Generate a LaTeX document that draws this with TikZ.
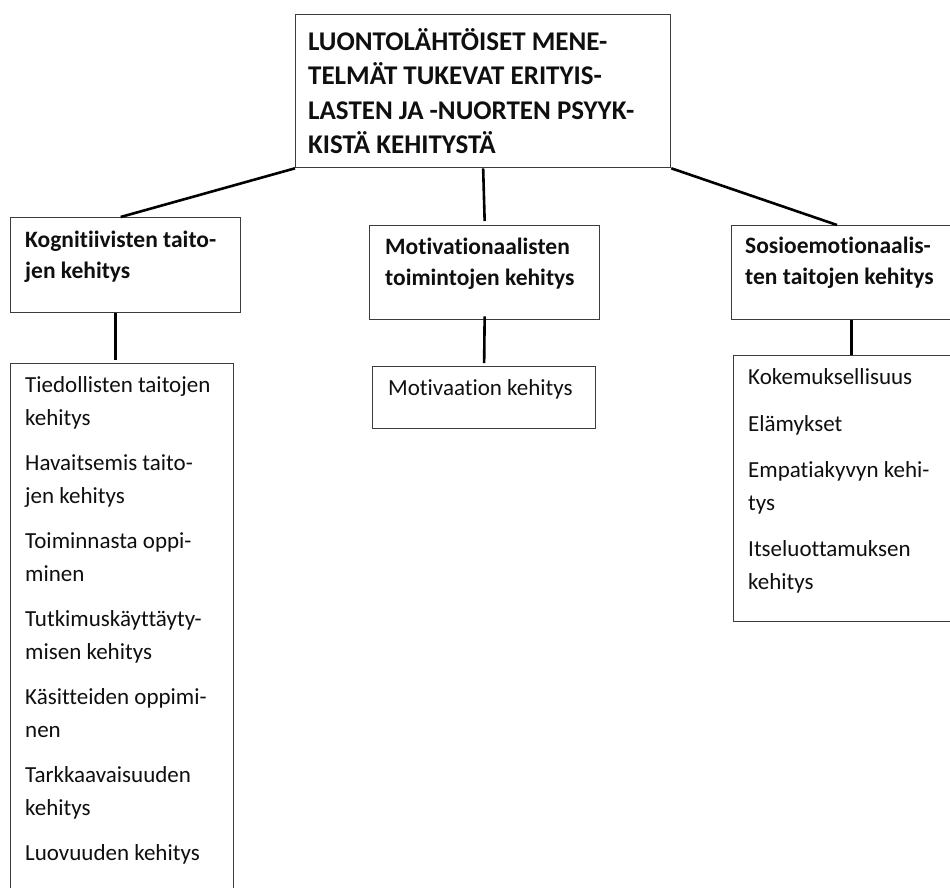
\documentclass[tikz,border=0pt]{standalone}
\usepackage{fontspec}
\setmainfont{Carlito}[Ligatures=NoCommon]
\definecolor{boxcol}{RGB}{60,60,60}
\definecolor{txtcol}{RGB}{15,15,15}
\tikzset{
  body/.style={font=\fontsize{23}{28}\selectfont, anchor=base west, inner sep=0pt, text=txtcol},
  head/.style={body, font=\bfseries\fontsize{23.5}{28}\selectfont},
  ttl/.style={body, font=\bfseries\fontsize{27}{32}\selectfont},
  box/.style={draw=boxcol, line width=1.3pt, rectangle, anchor=north west, inner sep=0pt},
  link/.style={line width=2.6pt, draw=black},
}
\begin{document}
\begin{tikzpicture}[x=1pt, y=1pt]
\useasboundingbox (0,0) rectangle (950,-887);
\clip (0,0) rectangle (950,-887);
\fill[white] (0,0) rectangle (950,-887);
% boxes
\node[box, minimum width=375, minimum height=153] (title) at (295,-14) {};
\node[box, minimum width=230, minimum height=95] (kog) at (10,-217) {};
\node[box, minimum width=230, minimum height=94] (mot) at (369,-225) {};
\node[box, minimum width=232, minimum height=94] (sos) at (731,-225) {};
\node[box, minimum width=223, minimum height=545] (list) at (10,-363) {};
\node[box, minimum width=223, minimum height=62] (motiv) at (372,-366) {};
\node[box, minimum width=232, minimum height=266] (rlist) at (733,-355) {};
% connectors
\coordinate (sosin) at (837,-225);
\draw[link] (title.south west) -- ([xshift=-5pt]kog.north);
\draw[link] (title.south) -- ([yshift=4pt]mot.north);
\draw[link] (title.south east) -- (sosin);
\draw[link] ([xshift=-10pt]kog.south) -- ([xshift=-6.5pt,yshift=3pt]list.north);
\draw[link] ([yshift=4pt]mot.south) -- ([yshift=3pt]motiv.north);
\draw[link] ([xshift=4pt]sos.south) -- ([xshift=2pt]rlist.north);
% title text
\foreach \y/\t [count=\i] in {50/LUONTOLÄHTÖISET MENE-, 84.5/TELMÄT TUKEVAT ERITYIS-, 119/LASTEN JA -NUORTEN PSYYK-, 153.5/KISTÄ KEHITYSTÄ}
  \node[ttl] (ttl\i) at (308,-\y) {\t};
% headings
\node[head] (kog1) at (25,-247) {Kognitiivisten taito-};
\node[head] (kog2) at (25,-278) {jen kehitys};
\node[head] (mot1) at (385,-254) {Motivationaalisten};
\node[head] (mot2) at (385,-285) {toimintojen kehitys};
\node[head] (sos1) at (745,-253) {Sosioemotionaalis-};
\node[head] (sos2) at (745,-284) {ten taitojen kehitys};
% left list
\foreach \y/\t [count=\i] in {392/Tiedollisten taitojen, 425/kehitys, 470/Havaitsemis taito-, 503/jen kehitys, 548/Toiminnasta oppi-, 581/minen, 626/Tutkimuskäyttäyty-, 659/misen kehitys, 704/Käsitteiden oppimi-, 737/nen, 782/Tarkkaavaisuuden, 815/kehitys, 860/Luovuuden kehitys}
  \node[body] (L\i) at (25,-\y) {\t};
% middle list
\node[body] (M1) at (388,-395) {Motivaation kehitys};
% right list
\foreach \y/\t [count=\i] in {384/Kokemuksellisuus, 431/Elämykset, 477/Empatiakyvyn kehi-, 510/tys, 556/Itseluottamuksen, 589/kehitys}
  \node[body] (R\i) at (748,-\y) {\t};
\end{tikzpicture}
\end{document}
